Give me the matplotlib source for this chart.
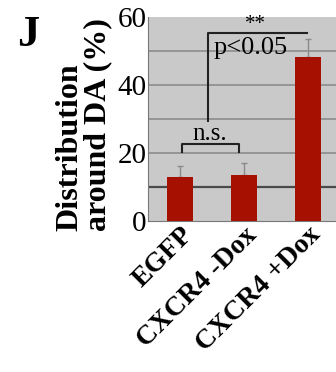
import matplotlib.pyplot as plt

# данные
groups = ['EGFP', 'CXCR4 -Dox', 'CXCR4 +Dox']
values = [12.9, 13.5, 48.2]
errors = [3.3, 3.5, 5.5]
yticks = [0, 20, 40, 60]

plt.rcParams['font.family'] = ['Liberation Serif', 'DejaVu Serif']

fig = plt.figure(figsize=(3.36, 3.72), dpi=100)
ax = fig.add_axes([0.4405, 0.406, 0.571, 0.548])
ax.set_facecolor('#c9c9c9')

x = range(len(groups))
ax.bar(x, values, width=0.41, color='#a51000', zorder=3)
ax.errorbar(x, values, yerr=[[0, 0, 0], errors], fmt='none', ecolor='#8a8a8a',
            elinewidth=1, capsize=2, capthick=1, zorder=2)

ax.set_xlim(-0.5, 2.5)
ax.set_ylim(0, 60)
ax.set_yticks(yticks)
ax.set_yticklabels([str(t) for t in yticks], fontsize=21)
ax.tick_params(axis='y', length=0, pad=1)
ax.tick_params(axis='x', length=0, pad=1)
ax.set_xticks(list(x))
ax.set_xticklabels(groups, rotation=45, ha='right', rotation_mode='anchor',
                   fontsize=20, fontweight='bold')

for v in [10, 20, 30, 40, 50]:
    ax.axhline(v, color='#4a4a4a' if v == 10 else '#8c8c8c', lw=1.6 if v == 10 else 1.2, zorder=1)

for s in ['top', 'right']:
    ax.spines[s].set_visible(False)
ax.spines['left'].set_color('#777777')
ax.spines['bottom'].set_color('#777777')

# подпись оси Y
fig.text(0.25, 0.378, 'Distribution\naround DA (%)', rotation=90, fontsize=23,
         fontweight='bold', ha='center', va='bottom', multialignment='left',
         linespacing=0.95)

# скобки значимости
ax.plot([0.03, 0.03, 0.92, 0.92], [20.3, 22.6, 22.6, 20.3], color='#222222', lw=1.5, zorder=4)
ax.text(0.47, 22.4, 'n.s.', ha='center', va='bottom', fontsize=18)
ax.plot([0.44, 0.44, 1.98], [29.4, 55.3, 55.3], color='#222222', lw=1.5, zorder=4)
ax.text(1.18, 55.0, '**', ha='center', va='bottom', fontsize=15)
ax.text(0.53, 54.0, 'p<0.05', ha='left', va='top', fontsize=19)

fig.text(0.05, 0.96, 'J', fontsize=32, fontweight='bold', va='top', ha='left')

fig.savefig('out.png', dpi=100)
